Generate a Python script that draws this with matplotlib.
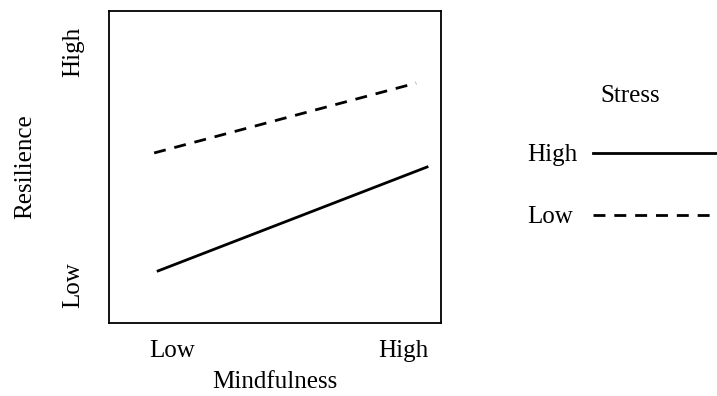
import matplotlib.pyplot as plt

# interaction plot: resilience vs mindfulness, by stress level
series = ["High", "Low"]
x_start = [0.148, 0.136]
x_end = [0.958, 0.925]
y_start = [0.167, 0.545]
y_end = [0.500, 0.769]
styles = ["-", "--"]

x_ticks = [0.19, 0.886]
x_ticklabels = ["Low", "High"]
y_ticks = [0.122, 0.869]
y_ticklabels = ["Low", "High"]

plt.rcParams['font.family'] = ['Liberation Serif', 'DejaVu Serif']
fs = 18

fig = plt.figure(figsize=(7.17, 3.96), dpi=100)
ax = fig.add_axes([109 / 717, 1 - 323 / 396, 332 / 717, 312 / 396])

for name, x0, x1, y0, y1, ls in zip(series, x_start, x_end, y_start, y_end, styles):
    line, = ax.plot([x0, x1], [y0, y1], color='black', lw=2.0, linestyle=ls, label=name)
    if ls == "--":
        line.set_dashes((4.3, 3.2))

ax.set_xlim(0, 1)
ax.set_ylim(0, 1)
ax.set_xticks(x_ticks)
ax.set_xticklabels(x_ticklabels, fontsize=fs)
ax.set_yticks(y_ticks)
ax.set_yticklabels(y_ticklabels, fontsize=fs, rotation=90, va='center')
ax.tick_params(length=0, pad=12)
ax.tick_params(axis='y', pad=18)
for s in ax.spines.values():
    s.set_linewidth(1.3)

ax.set_xlabel("Mindfulness", fontsize=fs, labelpad=7)
ax.set_ylabel("Resilience", fontsize=fs, labelpad=18.5)

handles, labels = ax.get_legend_handles_labels()
leg = fig.legend(handles, labels, title="Stress", loc='upper left',
                 bbox_to_anchor=(505 / 717, 1 - 62 / 396), frameon=False,
                 markerfirst=False, fontsize=fs, title_fontsize=fs,
                 handlelength=5.6, handletextpad=0.6, labelspacing=1.57)
leg._legend_box.sep = 27
for col in leg._legend_handle_box.get_children():
    col.align = "left"

# line the legend handles up: pad shorter labels so every line starts at the same x
fig.canvas.draw()
renderer = fig.canvas.get_renderer()
widths = [t.get_window_extent(renderer).width for t in leg.get_texts()]
items = [item for col in leg._legend_handle_box.get_children() for item in col.get_children()]
base_sep = items[0].sep
for item, w in zip(items, widths):
    item.sep = base_sep + (max(widths) - w) * 72 / fig.dpi

fig.savefig("out.png", dpi=100)
